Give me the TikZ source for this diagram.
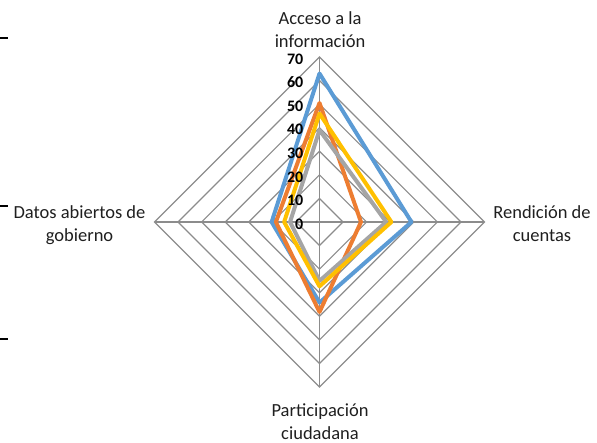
\documentclass[tikz,border=0pt]{standalone}
\usepackage{fontspec}
\setmainfont{Carlito}
\definecolor{gridgray}{HTML}{8C8C8C}
\definecolor{sblue}{HTML}{5B9BD5}
\definecolor{sorange}{HTML}{ED7D31}
\definecolor{sgray}{HTML}{A5A5A5}
\definecolor{syellow}{HTML}{FFC000}
\newcommand\radarseries[5]{\draw[series,#1] ({\cx},{\cy-#2*\s}) -- ({\cx+#3*\s},{\cy}) -- ({\cx},{\cy+#4*\s}) -- ({\cx-#5*\s},{\cy}) -- cycle;}
\begin{document}
\begin{tikzpicture}[x=1pt,y=-1pt,
  grid/.style={draw=gridgray,line width=1.2pt},
  series/.style={line width=4pt,line join=round},
  axlabel/.style={font=\fontsize{18.5}{23}\selectfont,align=center,text=black!88,inner sep=0pt},
  ticklabel/.style={font=\bfseries\fontsize{16}{18}\selectfont,anchor=east,inner sep=0pt,text=black}]
\useasboundingbox (0,0) rectangle (597,443);
\def\cx{319.5}\def\cy{222}\def\s{2.357}
% grid rings
\foreach \r in {10,20,...,70}
  \draw[grid] ({\cx},{\cy-\r*\s}) -- ({\cx+\r*\s},{\cy}) -- ({\cx},{\cy+\r*\s}) -- ({\cx-\r*\s},{\cy}) -- cycle;
% spokes
\draw[grid] ({\cx},{\cy-70*\s}) -- ({\cx},{\cy+70*\s});
\draw[grid] ({\cx-70*\s},{\cy}) -- ({\cx+70*\s},{\cy});
% series
\radarseries{sblue}{63}{39}{34.2}{20.3}
\radarseries{sorange}{50.5}{17.6}{38.2}{18.5}
\radarseries{sgray}{39}{28.3}{25}{12.5}
\radarseries{syellow}{46}{30.5}{27.3}{15}
% tick labels
\foreach \r in {0,10,...,70}
  \node[ticklabel] (t\r) at (303.5,{\cy+2-\r*\s}) {\r};
% axis labels
\node[axlabel] (acc) at (320,30) {Acceso a la\\información};
\node[axlabel] (ren) at (542,224) {Rendición de\\cuentas};
\node[axlabel] (par) at (320,422) {Participación\\ciudadana};
\node[axlabel] (dat) at (79.5,225) {Datos abiertos de\\gobierno};
% stray marks at left edge
\foreach \y in {38,206,339}
  \draw[black,line width=1.4pt] (0,\y) -- (7.5,\y);
\end{tikzpicture}
\end{document}
